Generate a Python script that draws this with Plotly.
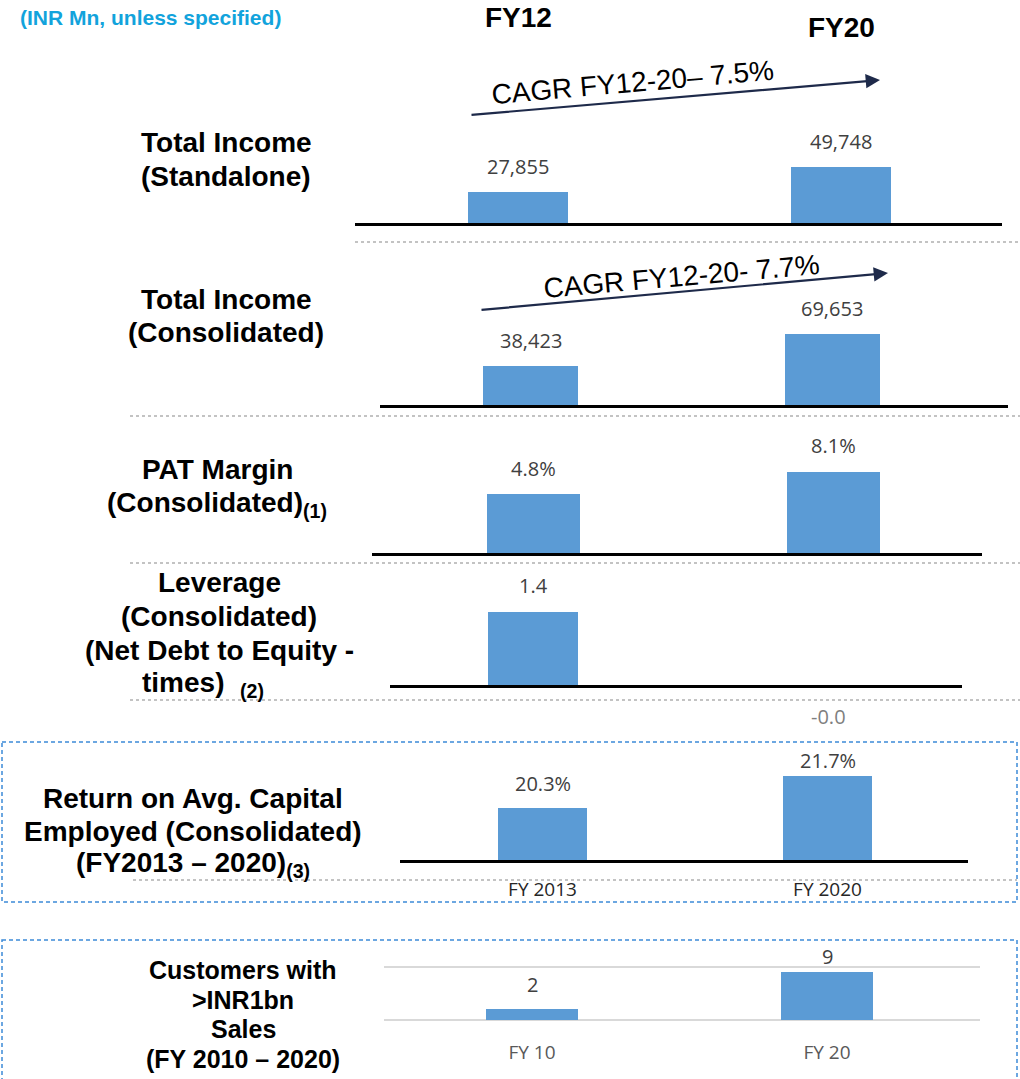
import plotly.graph_objects as go

W, H = 1020, 1079

# ---------------- data ----------------
fy_periods = ["FY12", "FY20"]
income_standalone = [27855, 49748]
income_consolidated = [38423, 69653]
pat_margin_pct = [4.8, 8.1]
net_debt_to_equity = [1.4, -0.01]
roce_periods = ["FY 2013", "FY 2020"]
roce_pct = [20.3, 21.7]
customer_periods = ["FY 10", "FY 20"]
customers_over_1bn = [2, 9]
cagr_standalone = "CAGR FY12-20– 7.5%"
cagr_consolidated = "CAGR FY12-20- 7.7%"
unit_note = "(INR Mn, unless specified)"

# ---------------- styling ----------------
BAR = "#5b9bd5"
LABEL_FONT = dict(family="Open Sans", size=20, color="#404040")
TITLE_FAMILY = "Liberation Sans"


def px_x(x):
    return x / W


def px_y(y):
    return 1 - y / H


panels = [
    dict(cats=fy_periods, vals=income_standalone, fmt="{:,.0f}",
         x0=355, x1=1002, c0=518, c1=841, bw=100, base=223, top=120,
         yr=[0, 91500], floor=0, line=True, ticks=None, gap=25, cap=None),
    dict(cats=fy_periods, vals=income_consolidated, fmt="{:,.0f}",
         x0=380, x1=1008, c0=530.5, c1=832, bw=95, base=405, top=300,
         yr=[0, 103000], floor=0, line=True, ticks=None, gap=25, cap=None),
    dict(cats=fy_periods, vals=pat_margin_pct, fmt="{:.1f}%",
         x0=372, x1=982, c0=533.5, c1=833.5, bw=93, base=553, top=440,
         yr=[-4, 12.87], floor=-4, line=True, ticks=None, gap=26, cap=None),
    dict(cats=fy_periods, vals=net_debt_to_equity, fmt="{:.1f}",
         x0=390, x1=962, c0=533, c1=828, bw=90, base=685, top=580,
         yr=[0, 2.01], floor=0, line=True, ticks=None, gap=26, cap=None),
    dict(cats=roce_periods, vals=roce_pct, fmt="{:.1f}%",
         x0=400, x1=968, c0=542.5, c1=827.5, bw=89, base=860, top=760,
         yr=[18, 22.41], floor=18, line=True, ticks="#262626", standoff=10,
         gap=24, cap=760),
    dict(cats=customer_periods, vals=customers_over_1bn, fmt="{:d}",
         x0=384, x1=980, c0=532, c1=827, bw=92, base=1021.06, top=965.94,
         yr=[-0.2, 10.2], floor=0, line=False, ticks="#595959", standoff=18,
         gap=25, cap=956, grid=True),
]

fig = go.Figure()
annotations = []
layout_axes = {}

for i, p in enumerate(panels, 1):
    unit = p["c1"] - p["c0"]
    floor = p["floor"]
    fig.add_trace(go.Bar(
        x=p["cats"], y=[v - floor for v in p["vals"]], base=floor,
        width=p["bw"] / unit, marker=dict(color=BAR, line=dict(width=0)),
        xaxis=f"x{i}", yaxis=f"y{i}", showlegend=False,
        customdata=p["vals"], hovertemplate="%{x}: %{customdata}<extra></extra>",
    ))
    xa = dict(
        domain=[px_x(p["x0"]), px_x(p["x1"])],
        range=[(p["x0"] - p["c0"]) / unit, 1 + (p["x1"] - p["c1"]) / unit],
        type="category", showline=p["line"], linecolor="black", linewidth=2.5,
        showgrid=False, zeroline=False, ticks="", anchor=f"y{i}",
        showticklabels=p["ticks"] is not None, fixedrange=True,
    )
    if p["ticks"]:
        xa.update(tickfont=dict(family="Open Sans", size=19, color=p["ticks"]),
                  ticklabelstandoff=p["standoff"])
    ya = dict(
        domain=[px_y(p["base"]), px_y(p["top"])], range=p["yr"],
        anchor=f"x{i}", showticklabels=False, zeroline=False, showline=False,
        fixedrange=True, showgrid=bool(p.get("grid")),
    )
    if p.get("grid"):
        ya.update(tickvals=[0, 10], gridcolor="#d9d9d9", gridwidth=2)
    key = "" if i == 1 else str(i)
    layout_axes[f"xaxis{key}"] = xa
    layout_axes[f"yaxis{key}"] = ya

    # value labels
    k = (p["base"] - p["top"]) / (p["yr"][1] - p["yr"][0])
    for c, v in zip(p["cats"], p["vals"]):
        if v < 0:
            shift = -31
            col = "#7f7f7f"
        else:
            top_px = p["base"] - (v - p["yr"][0]) * k
            lab_px = top_px - p["gap"]
            if p["cap"] is not None and lab_px < p["cap"]:
                lab_px = p["cap"]
            shift = top_px - lab_px
            col = LABEL_FONT["color"]
        annotations.append(dict(
            x=c, y=max(v, floor), xref=f"x{i}", yref=f"y{i}",
            text=p["fmt"].format(v), showarrow=False, xanchor="center",
            yanchor="middle", yshift=shift, font=dict(LABEL_FONT, color=col),
        ))


# ---------------- titles ----------------
def title_lines(lines, cx, y0, step, size):
    for j, t in enumerate(lines):
        annotations.append(dict(
            x=px_x(cx), y=px_y(y0 + j * step), xref="paper", yref="paper",
            text=t, showarrow=False, xanchor="center", yanchor="middle",
            font=dict(family=TITLE_FAMILY, size=size, color="black"),
        ))


title_lines(["<b>Total Income</b>", "<b>(Standalone)</b>"], 226, 143, 34, 28)
title_lines(["<b>Total Income</b>", "<b>(Consolidated)</b>"], 226, 299, 34, 28)
title_lines(["<b>PAT Margin</b>", "<b>(Consolidated)<sub>(1)</sub></b>"], 217, 469, 35, 28)
title_lines(["<b>Leverage</b>", "<b>(Consolidated)</b>", "<b>(Net Debt to Equity -</b>"],
            219, 582, 34, 28)
title_lines(["<b>times)  <sub>(2)</sub></b>"], 203, 684, 34, 28)
title_lines(["<b>Return on Avg. Capital</b>", "<b>Employed (Consolidated)</b>",
             "<b>(FY2013 – 2020)<sub>(3)</sub></b>"], 193, 798, 33, 28)
title_lines(["<b>Customers with</b>", "<b>>INR1bn</b>", "<b>Sales</b>",
             "<b>(FY 2010 – 2020)</b>"], 243, 970, 29.7, 25)

# header
annotations.append(dict(x=px_x(150), y=px_y(18), xref="paper", yref="paper",
                        text=f"<b>{unit_note}</b>", showarrow=False,
                        xanchor="center", yanchor="middle",
                        font=dict(family=TITLE_FAMILY, size=21, color="#12a3dc")))
for cat, ypix in zip(fy_periods, [18, 27]):
    annotations.append(dict(x=cat, y=px_y(ypix), xref="x", yref="paper",
                            text=f"<b>{cat}</b>", showarrow=False,
                            xanchor="center", yanchor="middle",
                            font=dict(family=TITLE_FAMILY, size=28, color="black")))

# CAGR arrows and text
for (hx, hy, tx, ty), (cx, cy), txt in [
    ((880, 80, 470, 115), (632, 82), cagr_standalone),
    ((888, 273, 480, 310), (681, 276), cagr_consolidated),
]:
    annotations.append(dict(x=px_x(hx), y=px_y(hy), xref="paper", yref="paper",
                            ax=tx - hx, ay=ty - hy, text="", showarrow=True,
                            arrowhead=2, arrowsize=1.3, arrowwidth=2.2,
                            arrowcolor="#1e2a4a"))
    annotations.append(dict(x=px_x(cx), y=px_y(cy), xref="paper", yref="paper",
                            text=txt, showarrow=False, textangle=-5,
                            xanchor="center", yanchor="middle",
                            font=dict(family=TITLE_FAMILY, size=28, color="black")))

# ---------------- separators & boxes ----------------
shapes = []
for (x0, x1, y) in [(355, 1020, 242), (130, 1020, 416), (130, 1020, 563),
                    (130, 1020, 700), (133, 1017, 880)]:
    shapes.append(dict(type="line", xref="paper", yref="paper",
                       x0=px_x(x0), x1=px_x(x1), y0=px_y(y), y1=px_y(y),
                       line=dict(color="#b0b0b0", width=1.5, dash="dot"), layer="below"))
for (x0, y0, x1, y1) in [(2, 742, 1017, 902), (2, 940, 1017, 1095)]:
    shapes.append(dict(type="rect", xref="paper", yref="paper",
                       x0=px_x(x0), x1=px_x(x1), y0=px_y(y0), y1=px_y(y1),
                       line=dict(color="#3d8ad8", width=1.5, dash="4px,3px"),
                       fillcolor="rgba(0,0,0,0)"))

fig.update_layout(
    width=W, height=H, margin=dict(l=0, r=0, t=0, b=0),
    paper_bgcolor="white", plot_bgcolor="rgba(0,0,0,0)",
    annotations=annotations, shapes=shapes, bargap=0,
    **layout_axes,
)

fig.write_html("out.html", config={"displayModeBar": False},
               post_script="document.body.style.margin='0px';document.body.style.overflow='hidden';")
